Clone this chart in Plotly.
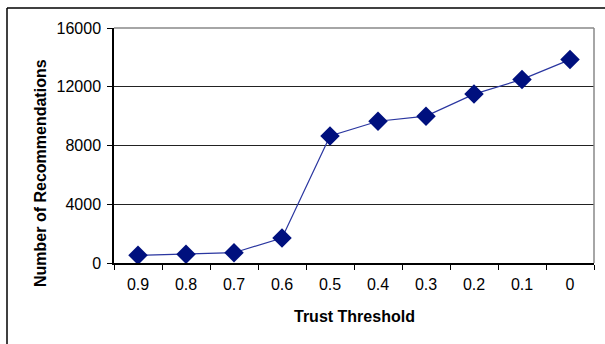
import plotly.graph_objects as go

# Trust threshold vs. number of recommendations
thresholds = ["0.9", "0.8", "0.7", "0.6", "0.5", "0.4", "0.3", "0.2", "0.1", "0"]
recommendations = [520, 600, 700, 1700, 8650, 9650, 10000, 11500, 12500, 13850]
y_ticks = [0, 4000, 8000, 12000, 16000]
y_tick_text = ["0", "4000", "8000", "12000", "16000"]

W, H = 605, 344
L, R, T, B = 114, 11, 28, 81
pw, ph = W - L - R, H - T - B

fig = go.Figure(
    go.Scatter(
        x=thresholds,
        y=recommendations,
        mode="lines+markers",
        line=dict(color="#2a36a0", width=1.2),
        marker=dict(symbol="diamond", size=15, color="#00107e",
                    line=dict(width=0)),
        cliponaxis=False,
    )
)

font = dict(family="Liberation Sans, Arial, sans-serif", size=16, color="#000")

fig.update_layout(
    width=W, height=H,
    margin=dict(l=L, r=R, t=T, b=B),
    paper_bgcolor="white", plot_bgcolor="white",
    showlegend=False,
    font=font,
    xaxis=dict(
        type="category", range=[-0.5, 9.5],
        tickson="boundaries", ticks="outside", ticklen=5, tickcolor="#000",
        showline=True, linecolor="#000", linewidth=1.5,
        showgrid=False, tickfont=font, ticklabelstandoff=6,
    ),
    yaxis=dict(
        range=[0, 16000], tickvals=y_ticks, ticktext=y_tick_text,
        ticks="outside", ticklen=5, tickcolor="#000",
        showline=True, linecolor="#000", linewidth=1.5,
        showgrid=True, gridcolor="#222", gridwidth=1,
        zeroline=False, tickfont=font, ticklabelstandoff=3,
    ),
    shapes=[
        # plot-area border on top and right
        dict(type="line", xref="paper", yref="paper", x0=0, x1=1, y0=1, y1=1,
             line=dict(color="#888", width=1.5)),
        dict(type="line", xref="paper", yref="paper", x0=1, x1=1, y0=0, y1=1,
             line=dict(color="#888", width=1.5)),
        # outer chart frame
        dict(type="line", xref="paper", yref="paper",
             x0=(7 - L) / pw, x1=(7 - L) / pw, y0=1 + (T - 8) / ph, y1=-(H - T - ph + 10) / ph,
             line=dict(color="#000", width=1.5)),
        dict(type="line", xref="paper", yref="paper",
             x0=(7 - L) / pw, x1=1 + (R + 10) / pw, y0=1 + (T - 8) / ph, y1=1 + (T - 8) / ph,
             line=dict(color="#000", width=1.5)),
    ],
    annotations=[
        dict(text="<b>Trust Threshold</b>", xref="paper", yref="paper",
             x=(354 - L) / pw, y=-(316 - T - ph) / ph, showarrow=False,
             xanchor="center", yanchor="middle", font=font),
        dict(text="<b>Number of Recommendations</b>", xref="paper", yref="paper",
             x=(40 - L) / pw, y=(T + ph - 173) / ph, showarrow=False,
             textangle=-90, xanchor="center", yanchor="middle", font=font),
    ],
)

fig.write_html("out.html")
